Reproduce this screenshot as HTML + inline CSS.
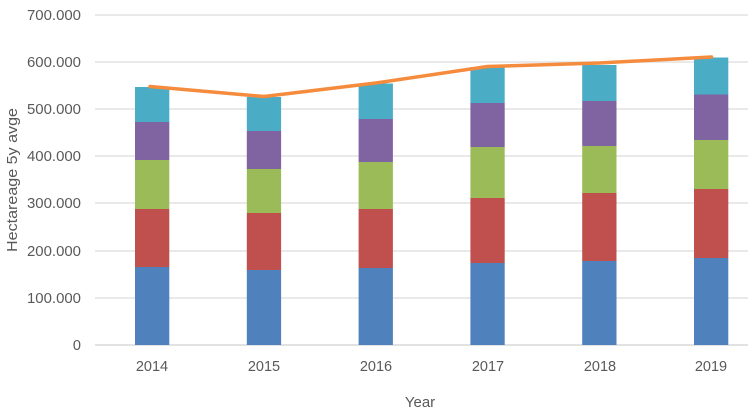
<!DOCTYPE html>
<html>
<head>
<meta charset="utf-8">
<style>
html,body{margin:0;padding:0;background:#fff;}
svg{display:block;}
text{font-family:"Liberation Sans",sans-serif;fill:#595959;}
</style>
</head>
<body>
<svg width="748" height="420" viewBox="0 0 748 420" xmlns="http://www.w3.org/2000/svg">
  <!-- gridlines -->
  <g stroke="#e2e2e2" stroke-width="1.5">
    <line x1="95" y1="15" x2="748" y2="15"/>
    <line x1="95" y1="62" x2="748" y2="62"/>
    <line x1="95" y1="109" x2="748" y2="109"/>
    <line x1="95" y1="156" x2="748" y2="156"/>
    <line x1="95" y1="203" x2="748" y2="203"/>
    <line x1="95" y1="251" x2="748" y2="251"/>
    <line x1="95" y1="298" x2="748" y2="298"/>
    <line x1="95" y1="345" x2="748" y2="345" stroke="#d9d9d9"/>
  </g>
  <!-- y labels -->
  <g font-size="14.5" text-anchor="end">
    <text x="81" y="20" textLength="54" lengthAdjust="spacingAndGlyphs">700.000</text>
    <text x="81" y="67" textLength="54" lengthAdjust="spacingAndGlyphs">600.000</text>
    <text x="81" y="114" textLength="54" lengthAdjust="spacingAndGlyphs">500.000</text>
    <text x="81" y="161" textLength="54" lengthAdjust="spacingAndGlyphs">400.000</text>
    <text x="81" y="208" textLength="54" lengthAdjust="spacingAndGlyphs">300.000</text>
    <text x="81" y="256" textLength="54" lengthAdjust="spacingAndGlyphs">200.000</text>
    <text x="81" y="303" textLength="54" lengthAdjust="spacingAndGlyphs">100.000</text>
    <text x="81" y="350">0</text>
  </g>
  <!-- y title -->
  <text transform="translate(17,180) rotate(-90)" font-size="15" text-anchor="middle" textLength="144" lengthAdjust="spacingAndGlyphs">Hectareage 5y avge</text>

  <!-- bars -->
  <!-- 2014 -->
  <g>
    <rect x="135" y="267" width="34.3" height="78" fill="#4F81BD"/>
    <rect x="135" y="209" width="34.3" height="58" fill="#C0504D"/>
    <rect x="135" y="160" width="34.3" height="49" fill="#9BBB59"/>
    <rect x="135" y="122" width="34.3" height="38" fill="#8064A2"/>
    <rect x="135" y="87" width="34.3" height="35" fill="#4BACC6"/>
  </g>
  <!-- 2015 -->
  <g>
    <rect x="246.8" y="270" width="34.3" height="75" fill="#4F81BD"/>
    <rect x="246.8" y="213" width="34.3" height="57" fill="#C0504D"/>
    <rect x="246.8" y="169" width="34.3" height="44" fill="#9BBB59"/>
    <rect x="246.8" y="131" width="34.3" height="38" fill="#8064A2"/>
    <rect x="246.8" y="97" width="34.3" height="34" fill="#4BACC6"/>
  </g>
  <!-- 2016 -->
  <g>
    <rect x="358.6" y="268" width="34.3" height="77" fill="#4F81BD"/>
    <rect x="358.6" y="209" width="34.3" height="59" fill="#C0504D"/>
    <rect x="358.6" y="162" width="34.3" height="47" fill="#9BBB59"/>
    <rect x="358.6" y="119" width="34.3" height="43" fill="#8064A2"/>
    <rect x="358.6" y="83.5" width="34.3" height="35.5" fill="#4BACC6"/>
  </g>
  <!-- 2017 -->
  <g>
    <rect x="470.4" y="263" width="34.3" height="82" fill="#4F81BD"/>
    <rect x="470.4" y="198" width="34.3" height="65" fill="#C0504D"/>
    <rect x="470.4" y="147" width="34.3" height="51" fill="#9BBB59"/>
    <rect x="470.4" y="103" width="34.3" height="44" fill="#8064A2"/>
    <rect x="470.4" y="67" width="34.3" height="36" fill="#4BACC6"/>
  </g>
  <!-- 2018 -->
  <g>
    <rect x="582.2" y="261" width="34.3" height="84" fill="#4F81BD"/>
    <rect x="582.2" y="193" width="34.3" height="68" fill="#C0504D"/>
    <rect x="582.2" y="146" width="34.3" height="47" fill="#9BBB59"/>
    <rect x="582.2" y="101" width="34.3" height="45" fill="#8064A2"/>
    <rect x="582.2" y="65" width="34.3" height="36" fill="#4BACC6"/>
  </g>
  <!-- 2019 -->
  <g>
    <rect x="694" y="258" width="34.3" height="87" fill="#4F81BD"/>
    <rect x="694" y="189" width="34.3" height="69" fill="#C0504D"/>
    <rect x="694" y="140" width="34.3" height="49" fill="#9BBB59"/>
    <rect x="694" y="94.5" width="34.3" height="45.5" fill="#8064A2"/>
    <rect x="694" y="57.5" width="34.3" height="37" fill="#4BACC6"/>
  </g>

  <!-- line -->
  <polyline points="150,86.5 264,96.5 375.8,83 487.6,66.5 599.4,63 711.5,57" fill="none" stroke="#F58B3C" stroke-width="3.5" stroke-linejoin="round" stroke-linecap="round"/>

  <!-- x labels -->
  <g font-size="14.5" text-anchor="middle">
    <text x="152" y="371">2014</text>
    <text x="264" y="371">2015</text>
    <text x="376" y="371">2016</text>
    <text x="488" y="371">2017</text>
    <text x="600" y="371">2018</text>
    <text x="711" y="371">2019</text>
  </g>
  <text x="420" y="407" font-size="15" text-anchor="middle">Year</text>
</svg>
</body>
</html>
